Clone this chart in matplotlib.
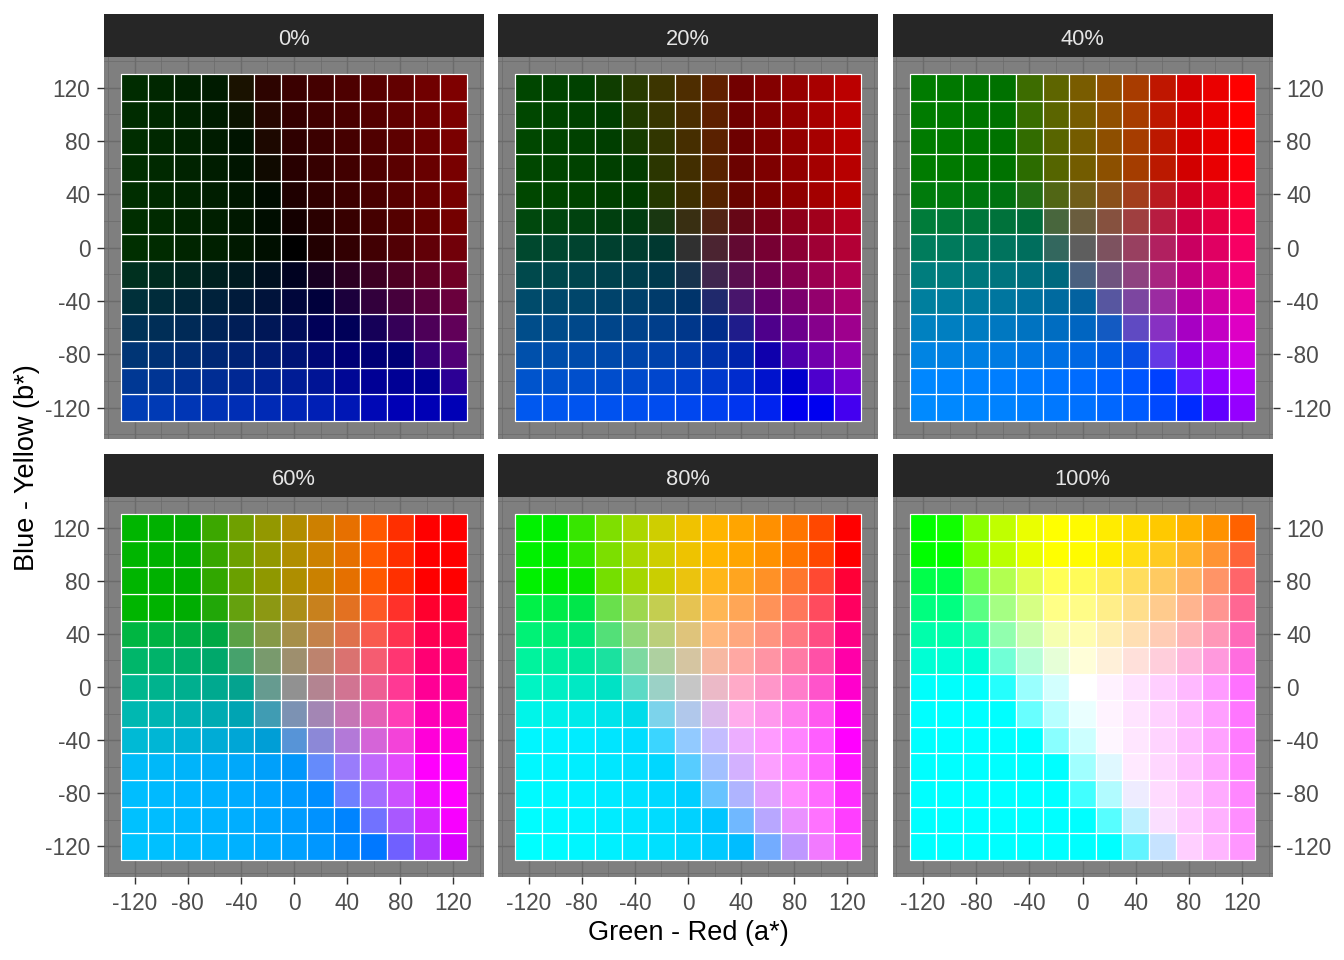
"""
CIELAB slices: a* vs b* tiles at six lightness levels, ggplot dark-theme look.
"""

import matplotlib
matplotlib.use("Agg")  # non-interactive backend
import matplotlib.pyplot as plt
import numpy as np

plt.rcParams["font.family"] = ["Liberation Sans", "DejaVu Sans"]
plt.rcParams["axes.unicode_minus"] = False

# --- data -----------------------------------------------------------------
lightness = [0, 20, 40, 60, 80, 100]
panel_labels = ["0%", "20%", "40%", "60%", "80%", "100%"]
a_star = [-120, -100, -80, -60, -40, -20, 0, 20, 40, 60, 80, 100, 120]
b_star = [-120, -100, -80, -60, -40, -20, 0, 20, 40, 60, 80, 100, 120]
major_breaks = [-120, -80, -40, 0, 40, 80, 120]
minor_breaks = [-140, -100, -60, -20, 20, 60, 100, 140]
tile_size = 20

# --- style ----------------------------------------------------------------
PANEL_BG = "#7F7F7F"
GRID = "#6B6B6B"
STRIP_BG = "#262626"
STRIP_TXT = "#E5E5E5"
AXIS_TXT = "#4D4D4D"
TICK_COL = "#333333"

W, H = 1344, 960
DPI = 192


def lab_to_srgb(L, a, b):
    """CIELAB (D65) -> clipped sRGB tuple in 0..1."""
    white = np.array([0.95047, 1.0, 1.08883])
    fy = (L + 16.0) / 116.0
    fx = fy + a / 500.0
    fz = fy - b / 200.0
    eps = 6.0 / 29.0

    def finv(t):
        return t ** 3 if t > eps else 3 * eps ** 2 * (t - 4.0 / 29.0)

    xyz = np.array([finv(fx), finv(fy), finv(fz)]) * white
    m = np.array([[3.2406, -1.5372, -0.4986],
                  [-0.9689, 1.8758, 0.0415],
                  [0.0557, -0.2040, 1.0570]])
    lin = np.clip(m @ xyz, 0, 1)
    rgb = np.where(lin <= 0.0031308, 12.92 * lin,
                   1.055 * np.power(lin, 1 / 2.4) - 0.055)
    return tuple(np.clip(rgb, 0, 1))


def px_rect(left, top, right, bottom):
    """Pixel box -> figure-fraction rect."""
    return [left / W, 1 - bottom / H, (right - left) / W, (bottom - top) / H]


fig = plt.figure(figsize=(W / DPI, H / DPI), dpi=DPI)

col_x = [(104, 484), (498, 878), (892.5, 1272.5)]
row_strip = [(14, 57), (454, 497)]
row_panel = [(57, 438.5), (497, 877)]

lim = (-130 - 13, 130 + 13)

for i, (L, label) in enumerate(zip(lightness, panel_labels)):
    r, c = divmod(i, 3)
    x0, x1 = col_x[c]

    # strip
    sax = fig.add_axes(px_rect(x0, row_strip[r][0], x1, row_strip[r][1]))
    sax.set_facecolor(STRIP_BG)
    sax.set_xticks([])
    sax.set_yticks([])
    for s in sax.spines.values():
        s.set_visible(False)
    sax.text(0.5, 0.40, label, color=STRIP_TXT, fontsize=8.2,
             ha="center", va="center", transform=sax.transAxes)

    # panel
    ax = fig.add_axes(px_rect(x0, row_panel[r][0], x1, row_panel[r][1]))
    ax.set_facecolor(PANEL_BG)
    for s in ax.spines.values():
        s.set_visible(False)
    ax.set_axisbelow(True)

    for bv in b_star:
        row_cols = [lab_to_srgb(L, av, bv) for av in a_star]
        ax.bar(a_star, tile_size, bottom=bv - tile_size / 2, width=tile_size,
               color=row_cols, edgecolor="white", linewidth=0.45)

    ax.set_xlim(*lim)
    ax.set_ylim(*lim)
    ax.set_xticks(major_breaks)
    ax.set_yticks(major_breaks)
    ax.set_xticks(minor_breaks, minor=True)
    ax.set_yticks(minor_breaks, minor=True)
    ax.grid(which="major", color=GRID, linewidth=0.53)
    ax.grid(which="minor", color=GRID, linewidth=0.27)
    ax.tick_params(which="minor", length=0)
    ax.tick_params(which="major", length=2.75, width=0.53, color=TICK_COL,
                   labelcolor=AXIS_TXT, labelsize=8.5, pad=2.4)
    ax.tick_params(axis="x", pad=3.0)

    # x labels only on the bottom row
    if r == 1:
        ax.tick_params(axis="x", bottom=True, labelbottom=True)
    else:
        ax.tick_params(axis="x", bottom=False, labelbottom=False)

    # y labels: left column on left, right column on right
    if c == 0:
        ax.tick_params(axis="y", left=True, labelleft=True,
                       right=False, labelright=False)
    elif c == 2:
        ax.tick_params(axis="y", left=False, labelleft=False,
                       right=True, labelright=True)
    else:
        ax.tick_params(axis="y", left=False, labelleft=False,
                       right=False, labelright=False)

fig.text(688.5 / W, 1 - 933.5 / H, "Green - Red (a*)", fontsize=10.2,
         ha="center", va="center", color="black")
fig.text(27 / W, 1 - 468 / H, "Blue - Yellow (b*)", fontsize=10.2,
         ha="center", va="center", rotation=90, color="black")

fig.savefig("out.png", dpi=DPI, facecolor="white")
